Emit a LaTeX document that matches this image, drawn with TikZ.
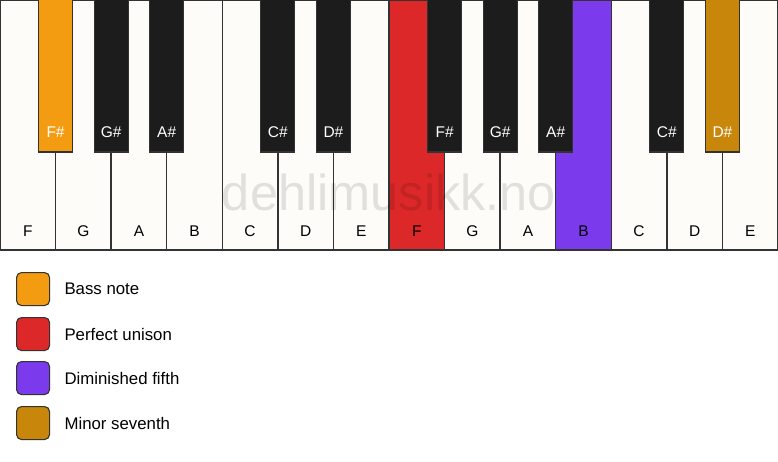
\documentclass[tikz,border=0pt]{standalone}
\usepackage{fontspec}
\setmainfont{Liberation Sans}
\definecolor{keywhite}{HTML}{FDFCF9}
\definecolor{keyblack}{HTML}{1C1C1C}
\definecolor{keyline}{HTML}{333333}
\definecolor{cbass}{HTML}{F39C12}
\definecolor{cunison}{HTML}{DC2828}
\definecolor{cfifth}{HTML}{7B3AEB}
\definecolor{cseventh}{HTML}{C8860A}
\begin{document}
\begin{tikzpicture}[x=1pt,y=-1pt,
  whitekey/.style={draw=keyline, line width=1.3pt, fill=keywhite, minimum width=55.57pt, minimum height=250pt, inner sep=0pt, outer sep=0pt, anchor=north west},
  blackkey/.style={draw=keyline, line width=1.1pt, fill=keyblack, minimum width=34pt, minimum height=153pt, inner sep=0pt, outer sep=0pt, anchor=north},
  wlabel/.style={font=\fontsize{15.5}{18}\selectfont, text=black},
  blabel/.style={font=\fontsize{15.5}{18}\selectfont, text=white},
  legbox/.style={draw=keyline, line width=1.1pt, rounded corners=5pt, minimum width=33pt, minimum height=33pt, inner sep=0pt, anchor=north west},
  legtext/.style={font=\fontsize{16.8}{19}\selectfont, anchor=west, text=black}]
\useasboundingbox (0,0) rectangle (778,461);
\fill[white] (0,0) rectangle (778,461);
% white keys
\foreach \n/\lab/\col [count=\i from 0] in {wF/F/keywhite, wG/G/keywhite, wA/A/keywhite, wB/B/keywhite, wC/C/keywhite, wD/D/keywhite, wE/E/keywhite, wF2/F/cunison, wG2/G/keywhite, wA2/A/keywhite, wB2/B/cfifth, wC2/C/keywhite, wD2/D/keywhite, wE2/E/keywhite}{
  \node[whitekey, fill=\col] (\n) at ({\i*55.571},0) {};
  \node[wlabel] (\n-l) at ({\i*55.571+27.8},231) {\lab};
}
% watermark
\node[font=\fontsize{50.5}{52}\selectfont, text=black, text opacity=0.11] (wm) at (389,192) {dehlimusikk.no};
% black keys
\foreach \n/\lab/\col/\b in {bFs/F\#/cbass/1, bGs/G\#/keyblack/2, bAs/A\#/keyblack/3, bCs/C\#/keyblack/5, bDs/D\#/keyblack/6, bFs2/F\#/keyblack/8, bGs2/G\#/keyblack/9, bAs2/A\#/keyblack/10, bCs2/C\#/keyblack/12, bDs2/D\#/cseventh/13}{
  \node[blackkey, fill=\col] (\n) at ({\b*55.571},-1) {};
  \node[blabel] (\n-l) at ({\b*55.571},132) {\lab};
}
% legend
\node[legbox, fill=cbass] (l1) at (16,272) {};
\node[legtext] (t1) at (61,289) {Bass note};
\node[legbox, fill=cunison] (l2) at (16,317) {};
\node[legtext] (t2) at (61,334) {Perfect unison};
\node[legbox, fill=cfifth] (l3) at (16,361) {};
\node[legtext] (t3) at (61,378) {Diminished fifth};
\node[legbox, fill=cseventh] (l4) at (16,406) {};
\node[legtext] (t4) at (61,423) {Minor seventh};
\end{tikzpicture}
\end{document}
